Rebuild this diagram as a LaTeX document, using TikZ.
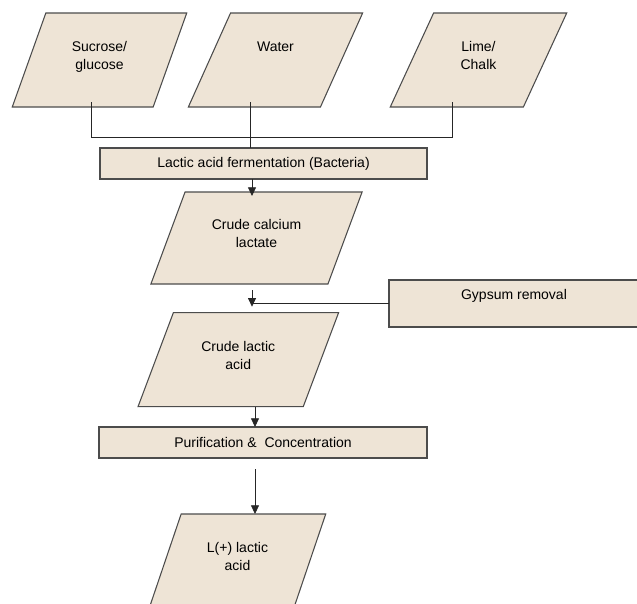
\documentclass[tikz,border=0pt]{standalone}
\usepackage{fontspec}
\setmainfont{Liberation Sans}
\usepackage{tikz}
\usetikzlibrary{shapes,arrows,positioning,calc,arrows.meta}
\definecolor{sand}{RGB}{238,228,214}

\begin{document}
\begin{tikzpicture}[
    x=0.75pt, y=-0.75pt,
    outer sep=0pt,
    font=\fontsize{10.5}{13.7}\selectfont,
    feed/.style={draw=black!70, fill=sand, line width=0.8pt, trapezium, trapezium stretches=true, trapezium left angle=65, trapezium right angle=115, minimum width=131.25pt, minimum height=70.5pt, align=center, inner sep=0pt, text height=21.3pt, text depth=6.5pt},
    stage/.style={draw=black!70, fill=sand, line width=0.8pt, rectangle, minimum width=245.25pt, minimum height=23.25pt, align=center, inner sep=0pt},
    link/.style={black!85, line width=0.6pt},
    arr/.style={link, -{Triangle[width=6pt,length=6.5pt]}}
]
    \clip (0,0) rectangle (637,604);
    % raw materials
    \node [feed] (suc) at (99.5,60) {Sucrose/\\glucose};
    \node [feed, text height=7.6pt, text depth=20.2pt] (wat) at (275.5,60) {Water};
    \node [feed, minimum width=132.75pt] (lim) at (478.5,60) {Lime/\\Chalk};
    % process
    \node [stage] (ferm) at (263.5,163.5) {Lactic acid fermentation (Bacteria)};
    \node [feed, trapezium left angle=60, trapezium right angle=120, minimum width=159.75pt, minimum height=69pt] (cal) at (256.5,238) {Crude calcium\\lactate};
    \node [stage, minimum width=187.5pt, minimum height=35.25pt, text height=7.6pt, text depth=12.9pt] (gyp) at (514,303.5) {Gypsum removal};
    \node [feed, trapezium left angle=61.5, trapezium right angle=118.5, minimum width=151.5pt] (lac) at (238.3,359.7) {Crude lactic\\acid};
    \node [stage, minimum width=246pt] (pur) at (263,442.5) {Purification \&\ \ Concentration};
    \node [feed, minimum width=132.75pt] (prod) at (237.5,561) {L(+) lactic\\acid};

    % connectors
    \coordinate (tap1) at ([xshift=6.75pt,yshift=3.75pt]suc.bottom side);
    \coordinate (tap2) at ([xshift=-3pt,yshift=3.75pt]wat.bottom side);
    \coordinate (tap3) at ([xshift=-3pt,yshift=3.75pt]lim.bottom side);
    \coordinate (bus) at ($(ferm.north)+(0,-11)$);
    \coordinate (spine) at (252,0);
    \coordinate (spine2) at (255,0);

    \draw [link] (tap1) |- (bus -| tap3) -- (tap3);
    \draw [link] (tap2) -- (tap2 |- ferm.north);
    \draw [arr, shorten >=-3pt] (ferm.south -| spine) -- (cal.north -| spine);
    \draw [arr, shorten <=4.5pt, shorten >=4.5pt] (cal.south -| spine) -- (lac.north -| spine);
    \draw [link] (gyp.west) -- (gyp.west -| spine);
    \draw [arr] (lac.south -| spine2) -- (pur.north -| spine2);
    \draw [arr, shorten <=8.25pt] (pur.south -| spine2) -- (prod.north -| spine2);
\end{tikzpicture}
\end{document}
